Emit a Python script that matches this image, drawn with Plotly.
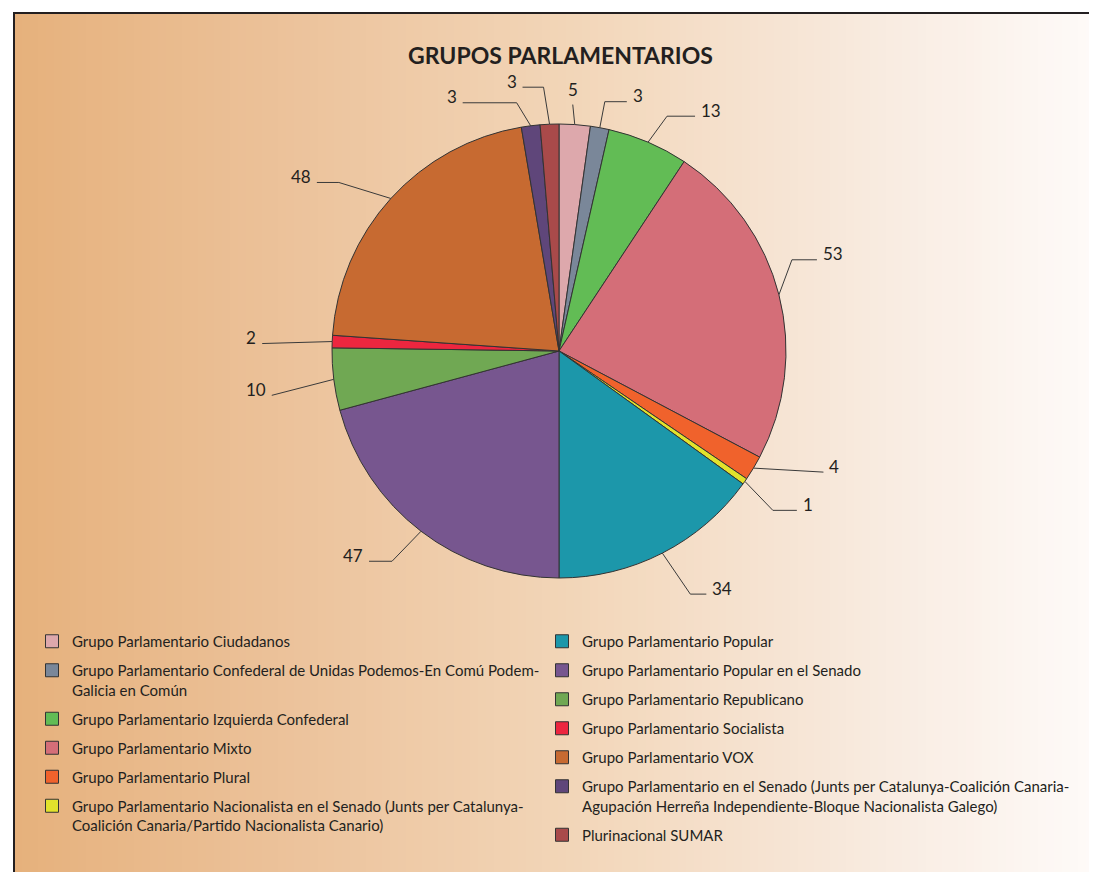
import math
import plotly.graph_objects as go

# --- data ---------------------------------------------------------------
groups = [
    "Grupo Parlamentario Ciudadanos",
    "Grupo Parlamentario Confederal de Unidas Podemos-En Comú Podem-<br>Galicia en Común",
    "Grupo Parlamentario Izquierda Confederal",
    "Grupo Parlamentario Mixto",
    "Grupo Parlamentario Plural",
    "Grupo Parlamentario Nacionalista en el Senado (Junts per Catalunya-<br>Coalición Canaria/Partido Nacionalista Canario)",
    "Grupo Parlamentario Popular",
    "Grupo Parlamentario Popular en el Senado",
    "Grupo Parlamentario Republicano",
    "Grupo Parlamentario Socialista",
    "Grupo Parlamentario VOX",
    "Grupo Parlamentario en el Senado (Junts per Catalunya-Coalición Canaria-<br>Agupación Herreña Independiente-Bloque Nacionalista Galego)",
    "Plurinacional SUMAR",
]
seats = [5, 3, 13, 53, 4, 1, 34, 47, 10, 2, 48, 3, 3]

colors = ["#DDA8AC", "#7A8799", "#62BC55", "#D46E78", "#F0622C", "#E2E22C",
          "#1C97AA", "#77568F", "#70A853", "#EC263F", "#C76A31", "#5F467A",
          "#A94A4A"]

# --- layout constants (pixels on the page) -----------------------------------
W, H = 1097, 872
OFF = 8          # page body margin; the axes are shifted so page pixels line up
CX, CY, R = 559, 351, 227
INK = "#231f20"
FONT = "Lato"

# leader line tweaks: elbow offset from slice edge (dx, dy) and horizontal run
leader = [(-2, -20, 0), (5, -26, 22), (19, -26, 28), (13, -35, 25),
          (70, 4, 0), (28, 29, 24), (28, 41, 16), (-29, 30, -23),
          (-62, 16, 0), (-70, 2, 0), (-52, -16, -22), (-14, -23, -54),
          (-6, -37, -21)]

fig = go.Figure()

# background gradient, left (tan) to right (almost white)
stops = [(14, (230, 177, 124)), (300, (236, 195, 156)), (560, (242, 213, 183)),
         (780, (246, 228, 211)), (950, (250, 240, 232)), (1097, (254, 251, 249))]

def grad(px):
    for (x0, c0), (x1, c1) in zip(stops, stops[1:]):
        if px <= x1:
            t = (px - x0) / (x1 - x0)
            return "rgb(%d,%d,%d)" % tuple(round(a + (b - a) * t) for a, b in zip(c0, c1))
    return "rgb(%d,%d,%d)" % stops[-1][1]

shapes = []
step = 8
for x0 in range(14, W + OFF, step):
    shapes.append(dict(type="rect", xref="x", yref="y", x0=x0, x1=x0 + step + 1,
                       y0=13, y1=H + OFF, fillcolor=grad(x0 + step / 2),
                       line=dict(width=0), layer="below"))
# frame (top and left)
shapes.append(dict(type="path", xref="x", yref="y",
                   path=f"M 14 {H + OFF} L 14 13 L {W + OFF} 13",
                   line=dict(color=INK, width=2)))

fig.add_trace(go.Pie(
    labels=groups, values=seats, sort=False, direction="clockwise", rotation=0,
    marker=dict(colors=colors, line=dict(color="#333333", width=1)),
    textinfo="none", hoverinfo="label+value", showlegend=False,
    domain=dict(x=[(CX - OFF - R) / W, (CX - OFF + R) / W],
                y=[(H - CY + OFF - R) / H, (H - CY + OFF + R) / H]),
))

# leader lines and value labels
total = sum(seats)
lx, ly, notes = [], [], []
cum = 0
for v, (dx, dy, h) in zip(seats, leader):
    a = 2 * math.pi * (cum + v / 2) / total
    cum += v
    ex, ey = CX + R * math.sin(a), CY - R * math.cos(a)
    bx, by = ex + dx, ey + dy
    fx, fy = bx + h, by
    lx += [ex, bx, fx, None]
    ly += [ey, by, fy, None]
    if h == 0 and abs(math.sin(a)) < 0.1:
        notes.append(dict(x=fx, y=fy - 3, text=str(v), xanchor="center", yanchor="bottom"))
    elif fx >= ex:
        notes.append(dict(x=fx + 4, y=fy - 6, text=str(v), xanchor="left", yanchor="middle"))
    else:
        notes.append(dict(x=fx - 4, y=fy - 6, text=str(v), xanchor="right", yanchor="middle"))

fig.add_trace(go.Scatter(x=lx, y=ly, mode="lines", line=dict(color="#3a3a3a", width=1),
                         hoverinfo="skip", showlegend=False))

# legend entries, split across two columns
for i, (name, c) in enumerate(zip(groups, colors)):
    fig.add_trace(go.Scatter(
        x=[None], y=[None], mode="markers", name=name,
        marker=dict(symbol="square", size=13, color=c, line=dict(color="#333333", width=1)),
        legendgroup=f"g{i}", legend="legend" if i < 6 else "legend2",
    ))

for n in notes:
    n.update(xref="x", yref="y", showarrow=False, font=dict(family=FONT, size=17, color=INK))

legend_style = dict(font=dict(family=FONT, size=15, color=INK), bgcolor="rgba(0,0,0,0)",
                    traceorder="grouped", tracegroupgap=6.5, valign="top",
                    yanchor="top", xanchor="left", itemclick=False, itemdoubleclick=False)

fig.update_layout(
    width=W, height=H, margin=dict(l=0, r=0, t=0, b=0),
    paper_bgcolor="white", plot_bgcolor="rgba(0,0,0,0)",
    xaxis=dict(range=[OFF, W + OFF], visible=False, fixedrange=True),
    yaxis=dict(range=[H + OFF, OFF], visible=False, fixedrange=True),
    shapes=shapes,
    annotations=notes + [dict(text="<b>GRUPOS PARLAMENTARIOS</b>", x=560, y=55,
                              xref="x", yref="y", showarrow=False,
                              font=dict(family=FONT, size=23, color=INK))],
    legend=dict(x=(32 - OFF) / W, y=1 - (625 - OFF) / H, **legend_style),
    legend2=dict(x=(542 - OFF) / W, y=1 - (625 - OFF) / H, **legend_style),
)

fig.write_html("out.html")
